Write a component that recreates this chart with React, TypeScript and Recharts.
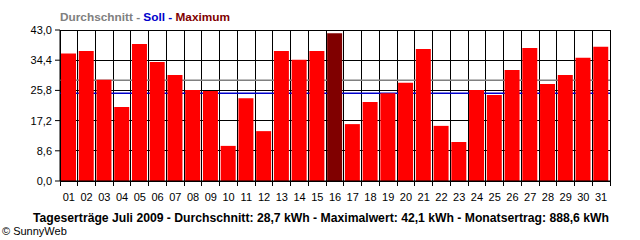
import { BarChart, Bar, Cell, XAxis, YAxis, CartesianGrid } from "recharts";

const days = [
  "01", "02", "03", "04", "05", "06", "07", "08", "09", "10",
  "11", "12", "13", "14", "15", "16", "17", "18", "19", "20",
  "21", "22", "23", "24", "25", "26", "27", "28", "29", "30", "31",
];

// kWh per day
const dailyYield = [
  36.3, 37.0, 28.8, 21.1, 39.0, 33.9, 30.2, 25.9, 25.6, 10.0,
  23.6, 14.2, 37.0, 34.5, 37.0, 42.1, 16.2, 22.5, 25.0, 28.0,
  37.6, 15.7, 11.1, 25.9, 24.5, 31.6, 37.9, 27.6, 30.2, 35.1, 38.2,
];

const yTicks = [0, 8.6, 17.2, 25.8, 34.4, 43.0];
const yMax = 43;

const average = 28.7;
const target = 25.0;

const legendParts = [
  { label: "Durchschnitt - ", color: "#808080" },
  { label: "Soll - ", color: "#0000cc" },
  { label: "Maximum", color: "#800000" },
];

const title =
  "Tageserträge Juli 2009 - Durchschnitt: 28,7 kWh - Maximalwert: 42,1 kWh - Monatsertrag: 888,6 kWh";

const font = "'Liberation Sans', Arial, sans-serif";

const data = days.map((day, i) => ({ day, value: dailyYield[i] }));
const maxValue = Math.max(...dailyYield);

const fmt = (v: number) => v.toFixed(1).replace(".", ",");

// the average / target lines sit behind the bars, so draw them as grid lines
const levelLine = (v: number) => ({ yAxis, offset }: any) => {
  if (yAxis && typeof yAxis.scale === "function") return [yAxis.scale(v)];
  return [offset.top + offset.height * (1 - v / yMax)];
};

// tick label in the middle, tick mark on the boundary between days
function DayTick(props: any) {
  const { x, y, payload, index, visibleTicksCount } = props;
  const half = payload?.offset ?? 0;
  const last = index === visibleTicksCount - 1;
  return (
    <g>
      <line x1={x - half} x2={x - half} y1={y} y2={y + 5} stroke="#000" shapeRendering="crispEdges" />
      {last && (
        <line x1={x + half} x2={x + half} y1={y} y2={y + 5} stroke="#000" shapeRendering="crispEdges" />
      )}
      <text x={x} y={y + 20} textAnchor="middle" fontSize={11} fontFamily={font} fill="#000">
        {payload.value}
      </text>
    </g>
  );
}

export default function App() {
  return (
    <div style={{ position: "absolute", left: 0, top: 0, width: 640, height: 240, background: "#fff" }}>
      <BarChart
        width={640}
        height={240}
        data={data}
        margin={{ top: 30, right: 30, bottom: 39, left: 0 }}
      >
        <CartesianGrid
          stroke="#000"
          strokeWidth={1}
          shapeRendering="crispEdges"
          verticalCoordinatesGenerator={({ offset }: any) =>
            Array.from({ length: days.length + 1 }, (_, i) => offset.left + (i * offset.width) / days.length)
          }
        />
        <CartesianGrid
          vertical={false}
          stroke="#808080"
          strokeWidth={1.5}
          horizontalCoordinatesGenerator={levelLine(average)}
        />
        <CartesianGrid
          vertical={false}
          stroke="#0000cc"
          strokeWidth={1.5}
          horizontalCoordinatesGenerator={levelLine(target)}
        />
        <XAxis
          dataKey="day"
          height={20}
          interval={0}
          tickSize={0}
          tickMargin={0}
          tickLine={false}
          axisLine={{ stroke: "#000" }}
          tick={<DayTick />}
        />
        <YAxis
          width={60}
          domain={[0, yMax]}
          ticks={yTicks}
          interval={0}
          tickFormatter={fmt}
          tickSize={5}
          tickMargin={3}
          tickLine={{ stroke: "#000" }}
          axisLine={{ stroke: "#000" }}
          tick={{ fontSize: 11, fill: "#000", fontFamily: font }}
        />
        <Bar dataKey="value" barSize={15} isAnimationActive={false}>
          {data.map((d) => (
            <Cell key={d.day} fill={d.value === maxValue ? "#800000" : "#ff0000"} />
          ))}
        </Bar>
      </BarChart>

      <svg
        width={640}
        height={240}
        style={{ position: "absolute", left: 0, top: 0, pointerEvents: "none" }}
      >
        <text x={60} y={21} fontSize={11.5} fontWeight="bold" fontFamily={font} textLength={170} lengthAdjust="spacingAndGlyphs">
          {legendParts.map((p) => (
            <tspan key={p.label} fill={p.color}>
              {p.label}
            </tspan>
          ))}
        </text>
        <text x={33} y={222} fontSize={12} fontWeight="bold" fontFamily={font} fill="#000" textLength={576} lengthAdjust="spacingAndGlyphs">
          {title}
        </text>
        <text x={2} y={235} fontSize={11} fontFamily={font} fill="#000">
          © SunnyWeb
        </text>
      </svg>
    </div>
  );
}
